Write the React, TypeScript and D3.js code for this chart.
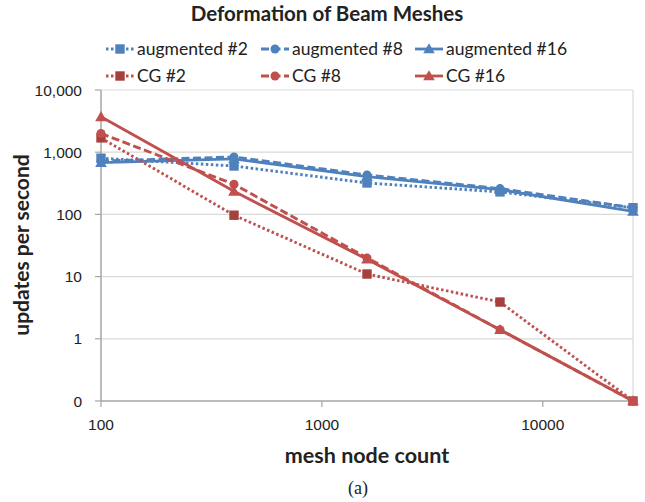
import React from "react";
import * as d3 from "d3";

const nodeCounts = [100, 400, 1600, 6400, 25600];
const augmented2 = [800, 600, 320, 230, 128];
const augmented8 = [720, 840, 430, 260, 128];
const augmented16 = [680, 780, 405, 250, 112];
const cg2 = [1700, 97, 11, 3.9, 0.1];
const cg8 = [2000, 305, 20, 1.4, 0.1];
const cg16 = [3700, 235, 19, 1.4, 0.1];

const yTicks = [0.1, 1, 10, 100, 1000, 10000];
const yTickLabels = ["0", "1", "10", "100", "1,000", "10,000"];
const xTicks = [100, 1000, 10000];
const xTickLabels = ["100", "1000", "10000"];

const BLUE = "#4F81BD";
const RED = "#C0504D";
const DARKRED = "#A5403D";

type Series = { name: string; values: number[]; color: string; marker: string; dash: string; markerColor: string };

const series: Series[] = [
  { name: "augmented #2", values: augmented2, color: BLUE, marker: "square", dash: "2.5,2.5", markerColor: BLUE },
  { name: "augmented #8", values: augmented8, color: BLUE, marker: "circle", dash: "8,3.5", markerColor: BLUE },
  { name: "augmented #16", values: augmented16, color: BLUE, marker: "triangle", dash: "none", markerColor: BLUE },
  { name: "CG #2", values: cg2, color: RED, marker: "square", dash: "2.5,2.5", markerColor: DARKRED },
  { name: "CG #8", values: cg8, color: RED, marker: "circle", dash: "8,3.5", markerColor: RED },
  { name: "CG #16", values: cg16, color: RED, marker: "triangle", dash: "none", markerColor: RED },
];

const W = 645;
const H = 502;
const left = 101;
const right = 633;
const top = 90;
const bottom = 401;

const x = d3.scaleLog().domain([100, 25600]).range([left, right]);
const y = d3.scaleLog().domain([0.1, 10000]).range([bottom, top]);

function Marker({ kind, cx, cy, color }: { kind: string; cx: number; cy: number; color: string }) {
  if (kind === "square") {
    return <rect x={cx - 4.7} y={cy - 4.7} width={9.4} height={9.4} fill={color} />;
  }
  if (kind === "circle") {
    return <circle cx={cx} cy={cy} r={4.5} fill={color} />;
  }
  const s = 5.8;
  return <path d={`M${cx},${cy - s}L${cx + s},${cy + s * 0.75}L${cx - s},${cy + s * 0.75}Z`} fill={color} />;
}

export default function App() {
  const line = d3
    .line<number>()
    .x((_, i) => x(nodeCounts[i]))
    .y((v) => y(v));
  const legendX = [106, 261, 415];
  const legendY = [49, 76];
  const tickFont = "'Liberation Sans', Arial, sans-serif";
  const labelFont = "Lato, 'Open Sans', sans-serif";
  return (
    <svg width={W} height={H} style={{ position: "absolute", left: 0, top: 0, background: "#fff" }}>
      <text x={327} y={21} textAnchor="middle" fontFamily={labelFont} fontWeight="bold" fontSize={20.5} fill="#222">
        Deformation of Beam Meshes
      </text>
      {series.map((s, i) => {
        const lx = legendX[i % 3];
        const ly = legendY[Math.floor(i / 3)];
        return (
          <g key={s.name}>
            <line x1={lx} x2={lx + 28} y1={ly} y2={ly} stroke={s.color} strokeWidth={2.8} strokeDasharray={s.dash} />
            <Marker kind={s.marker} cx={lx + 14} cy={ly} color={s.markerColor} />
            <text x={lx + 31} y={ly + 6} fontFamily={labelFont} fontSize={17.5} fill="#222">
              {s.name}
            </text>
          </g>
        );
      })}
      {yTicks.map((t) =>
        t === 0.1 ? null : (
          <line key={"g" + t} x1={left} x2={right} y1={y(t)} y2={y(t)} stroke="#D9D9D9" strokeWidth={1.2} />
        )
      )}
      <line x1={right} x2={right} y1={top} y2={bottom} stroke="#D9D9D9" strokeWidth={1.2} />
      {yTicks.map((t, i) => (
        <g key={"y" + t}>
          <line x1={left - 6} x2={left} y1={y(t)} y2={y(t)} stroke="#A6A6A6" strokeWidth={1.2} />
          <text x={82} y={y(t) + 5.5} textAnchor="end" fontFamily={tickFont} fontSize={15.5} fill="#222">
            {yTickLabels[i]}
          </text>
        </g>
      ))}
      <line x1={left} x2={left} y1={top} y2={bottom} stroke="#A6A6A6" strokeWidth={1.5} />
      <line x1={left} x2={right} y1={bottom} y2={bottom} stroke="#A6A6A6" strokeWidth={1.5} />
      {xTicks.map((t, i) => (
        <g key={"x" + t}>
          <line x1={x(t)} x2={x(t)} y1={bottom} y2={bottom + 6} stroke="#A6A6A6" strokeWidth={1.2} />
          <text x={x(t)} y={bottom + 29} textAnchor="middle" fontFamily={tickFont} fontSize={15.5} fill="#222">
            {xTickLabels[i]}
          </text>
        </g>
      ))}
      {series.map((s) => (
        <g key={"s" + s.name}>
          <path d={line(s.values) || ""} fill="none" stroke={s.color} strokeWidth={2.9} strokeDasharray={s.dash} />
          {s.values.map((v, i) => (
            <Marker key={i} kind={s.marker} cx={x(nodeCounts[i])} cy={y(v)} color={s.markerColor} />
          ))}
        </g>
      ))}
      <text x={367} y={463} textAnchor="middle" fontFamily={labelFont} fontWeight="bold" fontSize={21.5} fill="#222">
        mesh node count
      </text>
      <text
        transform={`translate(29,245) rotate(-90)`}
        textAnchor="middle"
        fontFamily={labelFont}
        fontWeight="bold"
        fontSize={21}
        fill="#222"
      >
        updates per second
      </text>
      <text x={358} y={494} textAnchor="middle" fontFamily="'Liberation Serif', 'Times New Roman', serif" fontSize={18} fill="#222">
        (a)
      </text>
    </svg>
  );
}
